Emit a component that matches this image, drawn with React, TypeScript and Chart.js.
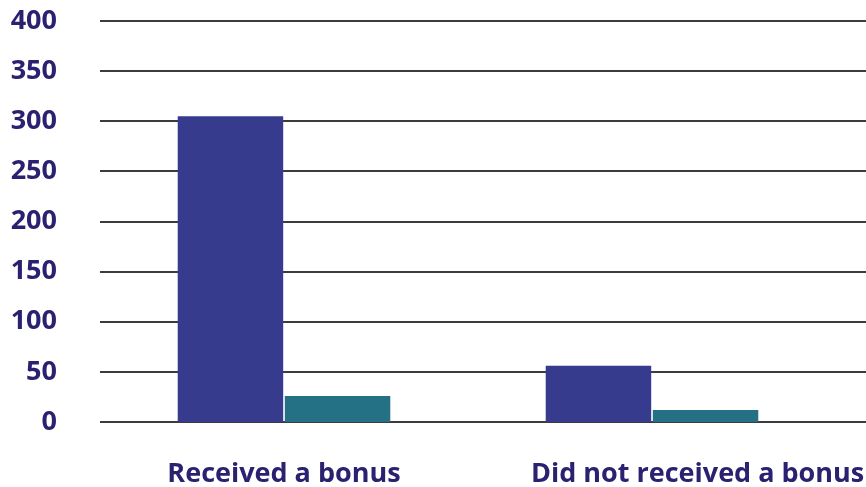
import React, { useEffect, useRef } from "react";
import { Chart, registerables } from "chart.js";

Chart.register(...registerables);

const categories = ["Received a bonus", "Did not received a bonus"];
const seriesA = [305, 56];
const seriesB = [26, 12];
const yTicks = [0, 50, 100, 150, 200, 250, 300, 350, 400];

const TEXT = "#2a2170";
const FONT = "'Open Sans', sans-serif";

const extendGrid = {
  id: "extendGrid",
  beforeDatasetsDraw(chart: any) {
    const { ctx, chartArea, scales } = chart;
    const y = scales.y;
    ctx.save();
    ctx.strokeStyle = "#3c3c3c";
    ctx.lineWidth = 2;
    for (const v of yTicks) {
      const py = Math.round(y.getPixelForValue(v));
      ctx.beginPath();
      ctx.moveTo(chartArea.left, py);
      ctx.lineTo(chart.width, py);
      ctx.stroke();
    }
    ctx.restore();
  },
};

const zeroPad = (s: any) => {
  s.paddingLeft = 0;
  s.paddingRight = 0;
  s.paddingTop = 0;
  s.paddingBottom = 0;
};

export default function App() {
  const ref = useRef<HTMLCanvasElement>(null);
  useEffect(() => {
    document.body.style.margin = "0";
    const chart = new Chart(ref.current!, {
      type: "bar",
      data: {
        labels: categories,
        datasets: [
          { data: seriesA, backgroundColor: "#373b8e", categoryPercentage: 0.582, barPercentage: 0.985 },
          { data: seriesB, backgroundColor: "#247186", categoryPercentage: 0.582, barPercentage: 0.985 },
        ],
      },
      options: {
        animation: false,
        responsive: false,
        layout: { padding: { top: 21, right: 30, left: 0, bottom: 0 } },
        plugins: { legend: { display: false }, tooltip: { enabled: false } },
        scales: {
          x: {
            grid: { display: false },
            border: { display: false },
            ticks: {
              color: TEXT,
              font: { family: FONT, size: 27, weight: "bold" },
              padding: 28,
              maxRotation: 0,
              autoSkip: false,
              callback: (v: any, i: number) =>
                i === 1 ? "             " + categories[i] : categories[i],
            },
            afterFit: (s: any) => {
              s.height = 65;
              zeroPad(s);
            },
          },
          y: {
            min: 0,
            max: 400,
            afterBuildTicks: (s: any) => {
              s.ticks = yTicks.map((v) => ({ value: v }));
            },
            grid: { display: false, drawTicks: false },
            border: { display: false },
            ticks: {
              color: TEXT,
              font: { family: FONT, size: 27, weight: "bold" },
              padding: 43,
            },
            afterFit: (s: any) => {
              s.width = 100;
              zeroPad(s);
            },
          },
        },
      },
      plugins: [extendGrid],
    });
    return () => chart.destroy();
  }, []);
  return <canvas ref={ref} width={866} height={487} style={{ display: "block" }} />;
}
